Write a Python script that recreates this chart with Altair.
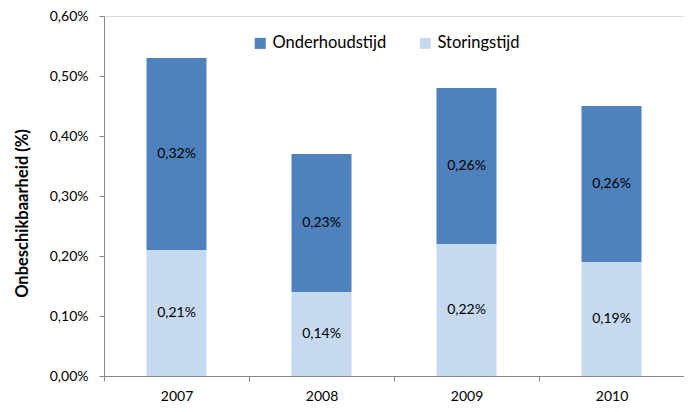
import altair as alt
import pandas as pd

years = ["2007", "2008", "2009", "2010"]
storingstijd = [0.21, 0.14, 0.22, 0.19]
onderhoudstijd = [0.32, 0.23, 0.26, 0.26]
series = ["Onderhoudstijd", "Storingstijd"]
colors = ["#4F81BD", "#C6D9F1"]

rows = []
for y, s, o in zip(years, storingstijd, onderhoudstijd):
    rows.append({"year": y, "serie": "Storingstijd", "value": s, "ord": 0})
    rows.append({"year": y, "serie": "Onderhoudstijd", "value": o, "ord": 1})
df = pd.DataFrame(rows)

FONT = "Lato"

base = alt.Chart(df).transform_stack(
    stack="value", groupby=["year"], as_=["y0", "y1"], sort=[{"field": "ord"}]
).transform_calculate(
    mid="(datum.y0 + datum.y1) / 2",
    lbl="replace(format(datum.value, '.2f'), '.', ',') + '%'",
)

xenc = alt.X(
    "year:N",
    title=None,
    scale=alt.Scale(paddingInner=0, paddingOuter=0),
    axis=alt.Axis(
        labelAngle=0,
        tickBand="extent",
        tickSize=5,
        labelPadding=8,
        labelFontSize=14,
        labelFont=FONT,
        labelColor="#000000",
        domainColor="#868686",
        tickColor="#868686",
    ),
)

yscale = alt.Scale(domain=[0, 0.6], nice=False)

bars = base.mark_bar(size=60).encode(
    x=xenc,
    y=alt.Y(
        "y1:Q",
        scale=yscale,
        title="Onbeschikbaarheid (%)",
        axis=alt.Axis(
            values=[0, 0.1, 0.2, 0.3, 0.4, 0.5, 0.6],
            labelExpr="replace(format(datum.value, '.2f'), '.', ',') + '%'",
            grid=False,
            tickSize=5,
            labelPadding=11,
            labelFontSize=14,
            labelFont=FONT,
            labelColor="#000000",
            domainColor="#868686",
            tickColor="#868686",
            titleFont=FONT,
            titleFontSize=16.5,
            titleFontWeight="bold",
            titleColor="#000000",
            titleX=-82,
            titleY=197,
            titleAngle=270,
            titleAlign="center",
            titleBaseline="middle",
        ),
    ),
    y2="y0:Q",
    color=alt.Color(
        "serie:N",
        scale=alt.Scale(domain=series, range=colors),
        legend=alt.Legend(
            title=None,
            orient="none",
            direction="horizontal",
            legendX=148,
            legendY=19,
            symbolType="square",
            symbolSize=121,
            symbolStrokeWidth=0,
            symbolOpacity=1,
            labelFont=FONT,
            labelFontSize=16.5,
            labelColor="#000000",
            columnPadding=30,
            labelOffset=4,
        ),
    ),
)

text = base.mark_text(font=FONT, fontSize=14, color="#000000").encode(
    x=alt.X("year:N"),
    y=alt.Y("mid:Q", scale=yscale),
    text="lbl:N",
)

chart = (
    alt.layer(bars, text)
    .properties(
        width=580,
        height=360,
        autosize=alt.AutoSizeParams(type="none"),
        padding={"left": 96, "top": 8, "right": 0, "bottom": 28},
    )
    .configure_view(stroke=None)
    .configure(background="white")
)

chart.save("out.html", embed_options={"renderer": "svg", "actions": False})
